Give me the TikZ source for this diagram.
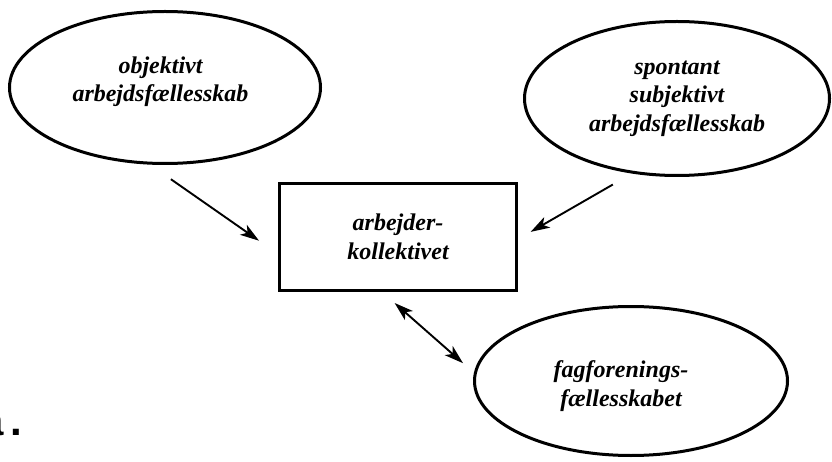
\documentclass[tikz,border=0pt]{standalone}
\usepackage{fontspec}
\setmainfont{Liberation Serif}
\newfontfamily\labelfont{Liberation Sans}
\usetikzlibrary{shapes.geometric}
\usetikzlibrary{arrows.meta}

\begin{document}
\begin{tikzpicture}[x=1pt, y=-1pt,
		>={Stealth[length=19pt,width=12pt,inset=5pt]},
		txt/.style={inner sep=0pt, align=center, font=\fontsize{24}{28.5}\selectfont\bfseries\itshape},
		oval/.style={ellipse, draw, line width=3pt, txt},
		box/.style={rectangle, draw, line width=3.2pt, txt},
		link/.style={line width=1.9pt}]
				\useasboundingbox (0,0) rectangle (832,462);
				
				\node[box, minimum width=237pt, minimum height=107pt] (0) at (398,237) {arbejder-\\kollektivet};
				\node[oval, minimum width=311pt, minimum height=152pt,
					label={[txt, xshift=-4.5pt, yshift=6pt]center:objektivt\\arbejdsfællesskab}] (1) at (165,87.5) {};
				\node[oval, minimum width=305pt, minimum height=154pt] (2) at (677,98.5) {spontant\\subjektivt\\arbejdsfællesskab};
				\node[oval, minimum width=313pt, minimum height=149pt,
					label={[txt, xshift=-10pt, yshift=-5pt]center:fagforenings-\\fællesskabet}] (3) at (631,381) {};
				\node[anchor=base west, inner sep=0pt, font=\labelfont\bfseries\fontsize{42}{42}\selectfont] (4) at (-19.5,435.5) {a\kern6.5pt.};
				
				\draw[link, ->, shorten <=25.5pt, shorten >=23pt]  (1.259) -- (0.188);
				\draw[link, ->, shorten <=22pt, shorten >=14.5pt]  (2.239) -- (0.359);
				\draw[link, <->, shorten <=16.5pt, shorten >=14.5pt]  (0.254) -- (3.177);
			\end{tikzpicture}
\end{document}
